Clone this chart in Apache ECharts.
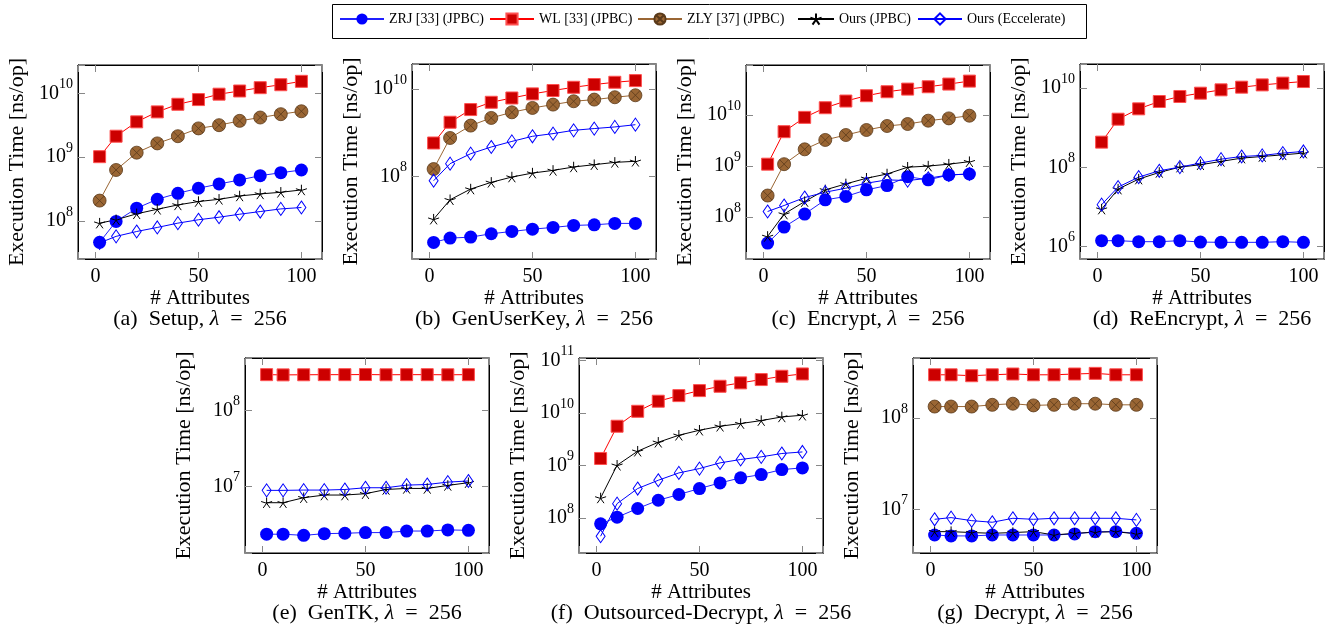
<!DOCTYPE html>
<html>
<head>
<meta charset="utf-8">
<script src="https://cdn.jsdelivr.net/npm/echarts@6/dist/echarts.min.js"></script>
<style>
  html, body { margin: 0; padding: 0; background: #fff; }
  #chart { width: 1339px; height: 629px; }
</style>
</head>
<body>
<div id="chart"></div>
<script>
// number of attributes (x values, same for every panel)
const attributes = [2, 10, 20, 30, 40, 50, 60, 70, 80, 90, 100];

const seriesNames = ['ZRJ [33] (JPBC)', 'WL [33] (JPBC)', 'ZLY [37] (JPBC)', 'Ours (JPBC)', 'Ours (Eccelerate)'];

// (a) Setup
const setupZRJ = [4.6e7, 9.8e7, 1.58e8, 2.18e8, 2.71e8, 3.25e8, 3.8e8, 4.39e8, 5.13e8, 5.71e8, 6.3e8];
const setupWL = [1.02e9, 2.14e9, 3.6e9, 5.16e9, 6.8e9, 8.06e9, 9.8e9, 1.1e10, 1.24e10, 1.38e10, 1.56e10];
const setupZLY = [2.08e8, 6.3e8, 1.18e9, 1.65e9, 2.14e9, 2.84e9, 3.19e9, 3.73e9, 4.21e9, 4.75e9, 5.28e9];
const setupOurs = [9.2e7, 1.04e8, 1.29e8, 1.52e8, 1.78e8, 2.01e8, 2.18e8, 2.46e8, 2.65e8, 2.81e8, 3.06e8];
const setupEcc = [4.5e7, 5.7e7, 6.8e7, 7.87e7, 9.2e7, 1.04e8, 1.14e8, 1.27e8, 1.4e8, 1.54e8, 1.62e8];

// (b) GenUserKey
const genKeyZRJ = [3.08e6, 3.87e6, 4.08e6, 4.87e6, 5.5e6, 6.2e6, 6.8e6, 7.55e6, 7.8e6, 8.4e6, 8.4e6];
const genKeyWL = [5.8e8, 1.73e9, 3.37e9, 4.95e9, 6.2e9, 7.7e9, 9.2e9, 1.09e10, 1.26e10, 1.42e10, 1.55e10];
const genKeyZLY = [1.47e8, 7.55e8, 1.45e9, 2.17e9, 2.92e9, 3.67e9, 4.38e9, 5.22e9, 5.7e9, 6.45e9, 7.16e9];
const genKeyOurs = [1.05e7, 2.92e7, 5.13e7, 7.3e7, 9.66e7, 1.19e8, 1.37e8, 1.64e8, 1.85e8, 2.09e8, 2.21e8];
const genKeyEcc = [7.95e7, 1.95e8, 3.3e8, 4.7e8, 6.3e8, 8.25e8, 9.5e8, 1.13e9, 1.24e9, 1.35e9, 1.52e9];

// (c) Encrypt
const encZRJ = [3.1e7, 6.4e7, 1.15e8, 2.18e8, 2.54e8, 3.42e8, 4.16e8, 6.2e8, 5.37e8, 6.7e8, 7.0e8];
const encWL = [1.09e9, 4.72e9, 9.0e9, 1.39e10, 1.88e10, 2.39e10, 2.86e10, 3.22e10, 3.58e10, 4.04e10, 4.62e10];
const encZLY = [2.65e8, 1.09e9, 2.13e9, 3.25e9, 4.06e9, 5.09e9, 6.1e9, 6.67e9, 7.75e9, 8.6e9, 9.7e9];
const encOurs = [4.19e7, 1.15e8, 2.02e8, 3.42e8, 4.48e8, 5.78e8, 7.0e8, 9.5e8, 1.0e9, 1.09e9, 1.22e9];
const encEcc = [1.29e8, 1.69e8, 2.42e8, 3.08e8, 3.69e8, 4.62e8, 5.37e8, 5.2e8, 5.78e8, 6.7e8, 7.0e8];

// (d) ReEncrypt
const reEncZRJ = [1.42e6, 1.42e6, 1.34e6, 1.34e6, 1.42e6, 1.31e6, 1.29e6, 1.29e6, 1.29e6, 1.34e6, 1.29e6];
const reEncWL = [4.35e8, 1.65e9, 3.01e9, 4.61e9, 6.17e9, 7.48e9, 9.08e9, 1.06e10, 1.21e10, 1.34e10, 1.47e10];
const reEncOurs = [8.9e6, 2.84e7, 5.08e7, 7.48e7, 1.02e8, 1.17e8, 1.42e8, 1.72e8, 1.89e8, 2.08e8, 2.3e8];
const reEncEcc = [1.15e7, 3.19e7, 5.7e7, 8.24e7, 1.02e8, 1.29e8, 1.62e8, 1.89e8, 2.01e8, 2.3e8, 2.53e8];

// (e) GenTK
const genTKZRJ = [2.38e6, 2.38e6, 2.3e6, 2.42e6, 2.45e6, 2.5e6, 2.5e6, 2.62e6, 2.62e6, 2.71e6, 2.68e6];
const genTKWL = [2.96e8, 2.94e8, 2.95e8, 2.96e8, 2.96e8, 2.97e8, 2.95e8, 2.96e8, 2.96e8, 2.95e8, 2.96e8];
const genTKOurs = [6.17e6, 6.17e6, 7.18e6, 7.78e6, 7.78e6, 8.1e6, 9.2e6, 9.5e6, 9.5e6, 1.04e7, 1.13e7];
const genTKEcc = [8.96e6, 8.96e6, 9.04e6, 9.04e6, 9.2e6, 9.7e6, 9.7e6, 1.05e7, 1.07e7, 1.15e7, 1.19e7];

// (f) Outsourced-Decrypt
const outZRJ = [7.7e7, 1.03e8, 1.51e8, 2.17e8, 2.79e8, 3.63e8, 4.65e8, 5.8e8, 6.7e8, 8.35e8, 8.99e8];
const outWL = [1.36e9, 5.6e9, 1.08e10, 1.68e10, 2.15e10, 2.68e10, 3.24e10, 3.76e10, 4.35e10, 5.03e10, 5.57e10];
const outOurs = [2.4e8, 1.01e9, 1.87e9, 2.77e9, 3.77e9, 4.7e9, 5.6e9, 6.3e9, 7.18e9, 8.43e9, 9.08e9];
const outEcc = [4.47e7, 1.87e8, 3.63e8, 5.22e8, 7.21e8, 8.73e8, 1.12e9, 1.3e9, 1.46e9, 1.69e9, 1.81e9];

// (g) Decrypt
const decZRJ = [5.22e6, 5.1e6, 5.1e6, 5.22e6, 5.22e6, 5.22e6, 5.22e6, 5.36e6, 5.68e6, 5.68e6, 5.45e6];
const decWL = [2.99e8, 2.99e8, 2.92e8, 2.99e8, 3.05e8, 2.99e8, 2.99e8, 3.05e8, 3.1e8, 2.99e8, 2.99e8];
const decZLY = [1.34e8, 1.34e8, 1.34e8, 1.4e8, 1.44e8, 1.38e8, 1.4e8, 1.44e8, 1.44e8, 1.4e8, 1.4e8];
const decOurs = [5.68e6, 5.68e6, 5.55e6, 5.45e6, 5.55e6, 5.68e6, 5.22e6, 5.45e6, 5.59e6, 5.68e6, 5.36e6];
const decEcc = [7.76e6, 8.1e6, 7.5e6, 7.2e6, 7.96e6, 7.76e6, 7.96e6, 7.96e6, 7.96e6, 7.96e6, 7.64e6];

const FONT = '"Liberation Serif", "DejaVu Serif", serif';

// panel layout: plot box position, y range (log10 exponents), tick base
const panels = [
  { cap: '(a)', title: 'Setup', left: 78, top: 65, h: 194, ymin: 7.40, ymax: 10.45, base: 10,
    data: [setupZRJ, setupWL, setupZLY, setupOurs, setupEcc] },
  { cap: '(b)', title: 'GenUserKey', left: 412, top: 64, h: 195, ymin: 6.11, ymax: 10.57, base: 100,
    data: [genKeyZRJ, genKeyWL, genKeyZLY, genKeyOurs, genKeyEcc] },
  { cap: '(c)', title: 'Encrypt', left: 746, top: 65, h: 194, ymin: 7.18, ymax: 10.98, base: 10,
    data: [encZRJ, encWL, encZLY, encOurs, encEcc] },
  { cap: '(d)', title: 'ReEncrypt', left: 1080, top: 64, h: 195, ymin: 5.69, ymax: 10.61, base: 100,
    data: [reEncZRJ, reEncWL, null, reEncOurs, reEncEcc] },
  { cap: '(e)', title: 'GenTK', left: 245, top: 358, h: 195, ymin: 6.13, ymax: 8.69, base: 10,
    data: [genTKZRJ, genTKWL, null, genTKOurs, genTKEcc] },
  { cap: '(f)', title: 'Outsourced-Decrypt', left: 579, top: 358, h: 195, ymin: 7.33, ymax: 11.05, base: 10,
    data: [outZRJ, outWL, null, outOurs, outEcc] },
  { cap: '(g)', title: 'Decrypt', left: 913, top: 358, h: 195, ymin: 6.52, ymax: 8.66, base: 10,
    data: [decZRJ, decWL, decZLY, decOurs, decEcc] }
];
const PLOT_W = 244;

// legend entries sit at fixed spots inside one framed box
const legendLeft = [339, 489, 637, 797, 917];
const legendLineLen = [44, 44, 44, 36, 44];

const STAR = 'path://M0,-10L0,0M9.51,-3.09L0,0M5.88,8.09L0,0M-5.88,8.09L0,0M-9.51,-3.09L0,0';
const OTIMES = 'path://M10,0A10,10,0,1,1,-10,0A10,10,0,1,1,10,0ZM-7.07,-7.07L7.07,7.07M-7.07,7.07L7.07,-7.07';

const styles = [
  { symbol: 'circle', symbolSize: 13, itemStyle: { color: '#0000ff' }, line: '#2020ff' },
  { symbol: 'rect', symbolSize: 12, itemStyle: { color: '#cc0000', borderColor: '#ff5050', borderWidth: 1 }, line: '#ff0000' },
  { symbol: OTIMES, symbolSize: 13, itemStyle: { color: '#9a6634', borderColor: '#5a3a1a', borderWidth: 0.8 }, line: '#9a6634' },
  { symbol: STAR, symbolSize: 11, itemStyle: { color: '#000', borderColor: '#000', borderWidth: 1 }, line: '#000' },
  { symbol: 'diamond', symbolSize: [9, 13], itemStyle: { color: 'rgba(255,255,255,0)', borderColor: '#0000ff', borderWidth: 1 }, line: '#0000ff' }
];

function yLabel(v) {
  const e = Math.log10(v);
  const r = Math.round(e);
  return Math.abs(e - r) < 1e-6 ? '10{s|' + r + '}' : '';
}
function xLabel(v) {
  return Math.abs(v % 50) < 1e-9 ? String(v) : '';
}
function axisLine() {
  return { show: true, onZero: false, lineStyle: { color: '#000', width: 1 } };
}
function axisTick() {
  return { show: true, inside: true, length: 7, lineStyle: { color: '#888', width: 1 } };
}
function nameStyle(size) {
  return { fontFamily: FONT, fontSize: size, color: '#000' };
}

const grid = [], xAxis = [], yAxis = [], series = [], title = [], legend = [];

panels.forEach((p, i) => {
  grid.push({ left: p.left, top: p.top, width: PLOT_W, height: p.h,
    show: true, borderColor: '#000', borderWidth: 1, backgroundColor: 'transparent' });

  ['bottom', 'top'].forEach(pos => {
    const ax = { type: 'value', gridIndex: i, position: pos, min: -8.5, max: 110, splitNumber: 2,
      axisLine: axisLine(), axisTick: axisTick(), splitLine: { show: false } };
    if (pos === 'bottom') {
      ax.name = '# Attributes';
      ax.nameLocation = 'middle';
      ax.nameGap = 26;
      ax.nameTextStyle = nameStyle(21);
      ax.axisLabel = { formatter: xLabel, fontFamily: FONT, fontSize: 20, color: '#000', margin: 8 };
    } else {
      ax.axisLabel = { show: false };
    }
    xAxis.push(ax);
  });

  ['left', 'right'].forEach(pos => {
    const ax = { type: 'log', logBase: p.base, gridIndex: i, position: pos,
      min: Math.pow(10, p.ymin), max: Math.pow(10, p.ymax),
      axisLine: axisLine(), axisTick: axisTick(), splitLine: { show: false } };
    if (pos === 'left') {
      ax.name = 'Execution Time [ns/op]';
      ax.nameLocation = 'middle';
      ax.nameGap = 50;
      ax.nameTextStyle = nameStyle(22);
      ax.axisLabel = { formatter: yLabel, fontFamily: FONT, fontSize: 20, color: '#000', margin: 5,
        rich: { s: { fontFamily: FONT, fontSize: 14, color: '#000', padding: [0, 0, 18, 0] } } };
    } else {
      ax.axisLabel = { show: false };
    }
    yAxis.push(ax);
  });

  p.data.forEach((arr, k) => {
    if (!arr) return;
    const st = styles[k];
    series.push({
      type: 'line', name: seriesNames[k], xAxisIndex: 2 * i, yAxisIndex: 2 * i,
      data: attributes.map((x, j) => [x, arr[j]]),
      symbol: st.symbol, symbolSize: st.symbolSize, symbolKeepAspect: true,
      showAllSymbol: true, itemStyle: Object.assign({}, st.itemStyle),
      lineStyle: { color: st.line, width: 1 },
      emphasis: { disabled: true }
    });
  });

  title.push({
    text: p.cap + '  ' + p.title + ', {i|λ}  =  256',
    left: p.left + PLOT_W / 2, top: p.top + p.h + 49, textAlign: 'center', padding: 0,
    textStyle: { fontFamily: FONT, fontSize: 22, fontWeight: 'normal', color: '#000',
      rich: { i: { fontFamily: FONT, fontSize: 22, fontStyle: 'italic', color: '#000' } } }
  });
});

seriesNames.forEach((name, k) => {
  legend.push({
    data: [name], left: legendLeft[k], top: 12, padding: 0,
    itemWidth: legendLineLen[k], itemHeight: 14, selectedMode: false,
    textStyle: { fontFamily: FONT, fontSize: 14, color: '#000' }
  });
});

const chart = echarts.init(document.getElementById('chart'), null, { renderer: 'canvas' });
chart.setOption({
  animation: false,
  backgroundColor: '#fff',
  title: title,
  legend: legend,
  graphic: [{
    type: 'rect', left: 330, top: 2, silent: true,
    shape: { width: 754, height: 34 },
    style: { fill: 'none', stroke: '#000', lineWidth: 1 }
  }],
  grid: grid,
  xAxis: xAxis,
  yAxis: yAxis,
  series: series
});
</script>
</body>
</html>
